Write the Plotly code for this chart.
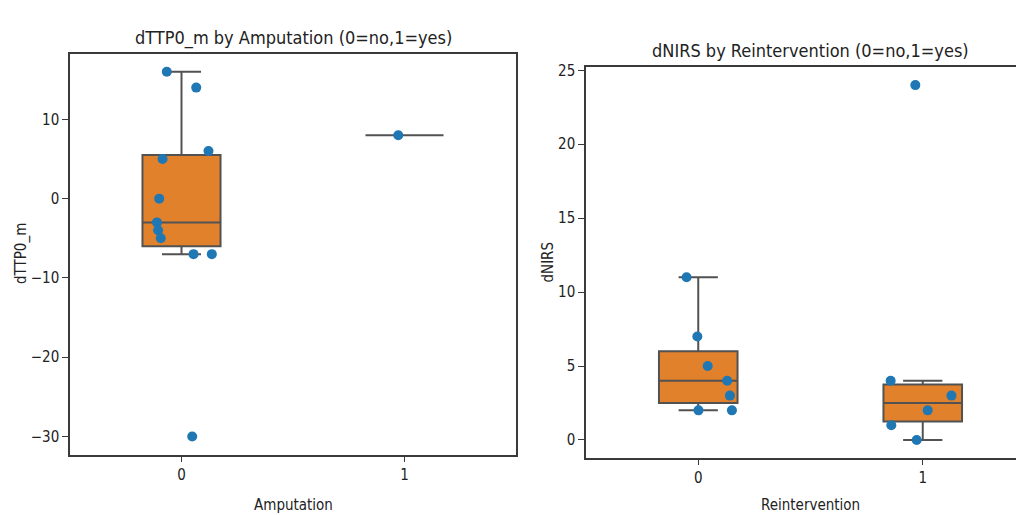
import numpy as np
import plotly.graph_objects as go

# ---------------- data ----------------
amp_groups = [0, 1]
amp_0_values = [16, 14, 6, 5, 0, -3, -4, -5, -7, -7, -30]
amp_1_values = [8]
amp_0_jitter = [-0.066, 0.066, 0.121, -0.085, -0.10, -0.11, -0.105, -0.093, 0.054, 0.136, 0.048]
amp_1_jitter = [-0.028]

reint_groups = [0, 1]
reint_0_values = [11, 7, 5, 4, 3, 2, 2]
reint_1_values = [24, 4, 3, 2, 1, 0]
reint_0_jitter = [-0.052, -0.004, 0.042, 0.129, 0.141, 0.001, 0.150]
reint_1_jitter = [-0.033, -0.143, 0.128, 0.022, -0.14, -0.027]

left_title = "dTTP0_m by Amputation (0=no,1=yes)"
right_title = "dNIRS by Reintervention (0=no,1=yes)"
left_xlabel, left_ylabel = "Amputation", "dTTP0_m"
right_xlabel, right_ylabel = "Reintervention", "dNIRS"

# ---------------- styles ----------------
OFF = 8                      # default page body margin
W, H = 1024 - OFF, 515 - OFF  # figure size so that it fills the window
FONT = "DejaVu Sans Condensed, DejaVu Sans, sans-serif"
BOX_FILL = "#e1812c"
BOX_LINE = "#525252"
DOT = "#1f77b4"
AX = "#3a3a3a"


def stats(vals):
    v = np.asarray(vals, dtype=float)
    q1, med, q3 = np.percentile(v, [25, 50, 75])
    iqr = q3 - q1
    lo = v[v >= q1 - 1.5 * iqr].min()
    hi = v[v <= q3 + 1.5 * iqr].max()
    return q1, med, q3, lo, hi


fig = go.Figure()


def add_group(xpos, vals, jit, xa, ya):
    q1, med, q3, lo, hi = stats(vals)
    fig.add_trace(go.Box(
        x=[xpos], q1=[q1], median=[med], q3=[q3], lowerfence=[lo], upperfence=[hi],
        width=0.35, whiskerwidth=0.5, boxpoints=False,
        fillcolor=BOX_FILL, line=dict(color=BOX_LINE, width=2),
        xaxis=xa, yaxis=ya, showlegend=False, hoverinfo="skip"))
    fig.add_trace(go.Scatter(
        x=[xpos + j for j in jit], y=vals, mode="markers",
        marker=dict(color=DOT, size=10, line=dict(width=0)),
        xaxis=xa, yaxis=ya, showlegend=False))


add_group(amp_groups[0], amp_0_values, amp_0_jitter, "x", "y")
add_group(amp_groups[1], amp_1_values, amp_1_jitter, "x", "y")
add_group(reint_groups[0], reint_0_values, reint_0_jitter, "x2", "y2")
add_group(reint_groups[1], reint_1_values, reint_1_jitter, "x2", "y2")


def rng(vals):
    lo, hi = min(vals), max(vals)
    pad = (hi - lo) * 0.05
    return [lo - pad, hi + pad]


left_vals = amp_0_values + amp_1_values
right_vals = reint_0_values + reint_1_values

# pixel geometry (window coordinates, converted to figure coords with OFF)
L_x0, L_x1, L_y0, L_y1 = 70, 516, 48, 454
R_x0, R_xfull, R_y0, R_y1 = 586, 1035, 62, 457
R_x1 = 1024
r_xmax = 1.5 - (R_xfull - R_x1) / ((R_xfull - R_x0) / 2.0)


def px(xw):
    return (xw - OFF) / W


def py(yw):
    return 1 - (yw - OFF) / H


axis_common = dict(showline=True, linecolor=AX, linewidth=1.5, ticks="outside",
                   ticklen=6, tickwidth=1.2, tickcolor=AX, showgrid=False,
                   zeroline=False, tickfont=dict(family=FONT, size=15, color="#222"))

fig.update_layout(
    width=W, height=H, margin=dict(l=0, r=0, t=0, b=0),
    paper_bgcolor="white", plot_bgcolor="white",
    xaxis=dict(domain=[px(L_x0), px(L_x1)], anchor="y", range=[-0.5, 1.5],
               tickvals=amp_groups, ticktext=[str(g) for g in amp_groups],
               mirror=True, **axis_common),
    yaxis=dict(domain=[py(L_y1), py(L_y0)], anchor="x", range=rng(left_vals),
               dtick=10, mirror=True, **axis_common),
    xaxis2=dict(domain=[px(R_x0), 1.0], anchor="y2", range=[-0.5, r_xmax],
                tickvals=reint_groups, ticktext=[str(g) for g in reint_groups],
                mirror=True, **axis_common),
    yaxis2=dict(domain=[py(R_y1), py(R_y0)], anchor="x2", range=rng(right_vals),
                dtick=5, mirror=False, **axis_common),
)


def ann(text, xw, yw, size, angle=0):
    fig.add_annotation(text=text, x=px(xw), y=py(yw), xref="paper", yref="paper",
                       xanchor="center", yanchor="middle", showarrow=False, textangle=angle,
                       font=dict(family=FONT, size=size, color="#222"))


ann(left_title, (L_x0 + L_x1) / 2, 32, 18)
ann(right_title, (R_x0 + R_xfull) / 2, 45, 18)
ann(left_xlabel, (L_x0 + L_x1) / 2, 505, 15)
ann(right_xlabel, (R_x0 + R_xfull) / 2, 505, 15)
ann(left_ylabel, 21, (L_y0 + L_y1) / 2, 15, -90)
ann(right_ylabel, 548, (R_y0 + R_y1) / 2, 15, -90)

fig.write_html("out.html")
